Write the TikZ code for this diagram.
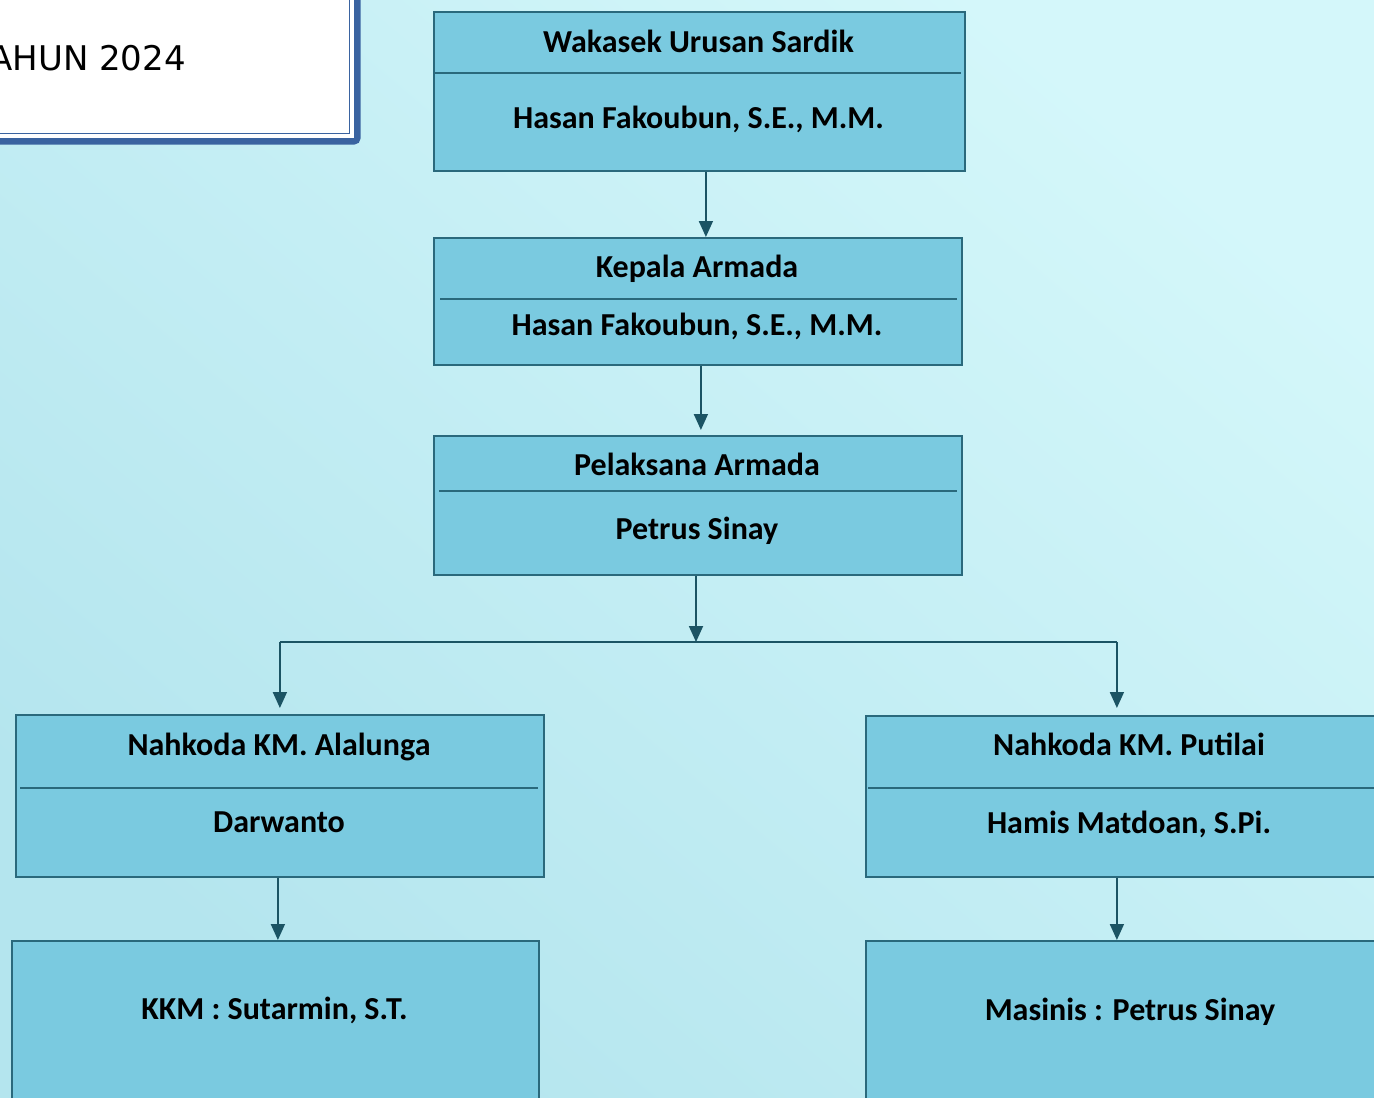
\documentclass[tikz,border=0pt]{standalone}
\usepackage{fontspec}
\setmainfont{Carlito}
\newfontfamily\yearfont{DejaVu Sans}
\usetikzlibrary{arrows.meta}

\definecolor{bgtop}{RGB}{212,247,250}
\definecolor{bgbot}{RGB}{180,229,238}
\definecolor{boxfill}{RGB}{122,202,224}
\definecolor{boxline}{RGB}{42,105,124}
\definecolor{arrowline}{RGB}{27,84,100}
\definecolor{frameblue}{RGB}{58,99,160}

\begin{document}
\begin{tikzpicture}[x=1pt, y=-1pt,
    unitbox/.style={draw=boxline, fill=boxfill, line width=1.8pt, rectangle,
      inner sep=0pt, anchor=north west, minimum width=#1},
    unitbox/.default=528,
    label/.style={anchor=base, inner sep=0pt, font=\fontsize{32}{38}\selectfont\bfseries},
    divider/.style={draw=boxline, line width=1.8pt},
    arr/.style={draw=arrowline, line width=1.8pt, -{Triangle[width=14pt,length=16pt]}}]
    \clip (0,0) rectangle (1374,1098);
    \shade[top color=bgtop, bottom color=bgbot, shading angle=-40] (0,0) rectangle (1374,1098);

    % title frame, cut off at the left edge
    \draw[frameblue, line width=7pt, rounded corners=3pt] (-20,-20) rectangle (357,141);
    \draw[fill=white, draw=none] (-20,-20) rectangle (353.5,137.5);
    \draw[frameblue, line width=1.5pt] (-20,133.5) -- (349.5,133.5) -- (349.5,-20);
    \node[anchor=base east, inner sep=0pt, font=\yearfont\fontsize{34}{40}\selectfont] (year) at (186,70) {TAHUN 2024};

    % boxes
    \node[unitbox=531, minimum height=159] (wakasek) at (433,11) {};
    \draw[divider] (435,73) -- (961,73);
    \node[label] (wakasekT) at (698.5,52) {Wakasek Urusan Sardik};
    \node[label] (wakasekN) at (698.5,128) {Hasan Fakoubun, S.E., M.M.};

    \node[unitbox, minimum height=127] (kepala) at (433,237) {};
    \draw[divider] (440,299) -- (957,299);
    \node[label] (kepalaT) at (697,277) {Kepala Armada};
    \node[label] (kepalaN) at (697,335) {Hasan Fakoubun, S.E., M.M.};

    \node[unitbox, minimum height=139] (pelaksana) at (433,435) {};
    \draw[divider] (439,491) -- (957,491);
    \node[label] (pelaksanaT) at (697,475) {Pelaksana Armada};
    \node[label] (pelaksanaN) at (697,539) {Petrus Sinay};

    \node[unitbox, minimum height=162] (alalunga) at (15,714) {};
    \draw[divider] (20,788) -- (538,788);
    \node[label] (alalungaT) at (279,755) {Nahkoda KM. Alalunga};
    \node[label] (alalungaN) at (279,832) {Darwanto};

    \node[unitbox, minimum height=161] (putilai) at (865,715) {};
    \draw[divider] (868,788) -- (1390,788);
    \node[label] (putilaiT) at (1129,755) {Nahkoda KM. Putilai};
    \node[label] (putilaiN) at (1129,833) {Hamis Matdoan, S.Pi.};

    \node[unitbox=527, minimum height=200] (kkm) at (11,940) {};
    \node[label] (kkmT) at (274.5,1019) {KKM : Sutarmin, S.T.};

    \node[unitbox, minimum height=200] (masinis) at (865,940) {};
    \node[label] (masinisT) at (1130,1020) {Masinis : Petrus Sinay};

    % connectors
    \draw[arr] ([xshift=6.5pt]wakasek.south) -- ([xshift=6.5pt]wakasek.south |- kepala.north);
    \draw[arr] ([xshift=3pt]kepala.south) -- ([xshift=3pt,yshift=5pt]pelaksana.north);
    \coordinate (split) at (696,642);
    \draw[arr] (pelaksana.south -| split) -- (split);
    \draw[draw=arrowline, line width=1.8pt] (alalunga.north |- split) -- ([xshift=-13pt]putilai.north |- split);
    \draw[arr] (alalunga.north |- split) -- ([yshift=6pt]alalunga.north);
    \draw[arr] ([xshift=-13pt]putilai.north |- split) -- ([xshift=-13pt,yshift=7pt]putilai.north);
    \draw[arr] ([xshift=-2pt]alalunga.south) -- ([xshift=-2pt]alalunga.south |- kkm.north);
    \draw[arr] ([xshift=-13pt]putilai.south) -- ([xshift=-13pt]masinis.north);
\end{tikzpicture}
\end{document}
